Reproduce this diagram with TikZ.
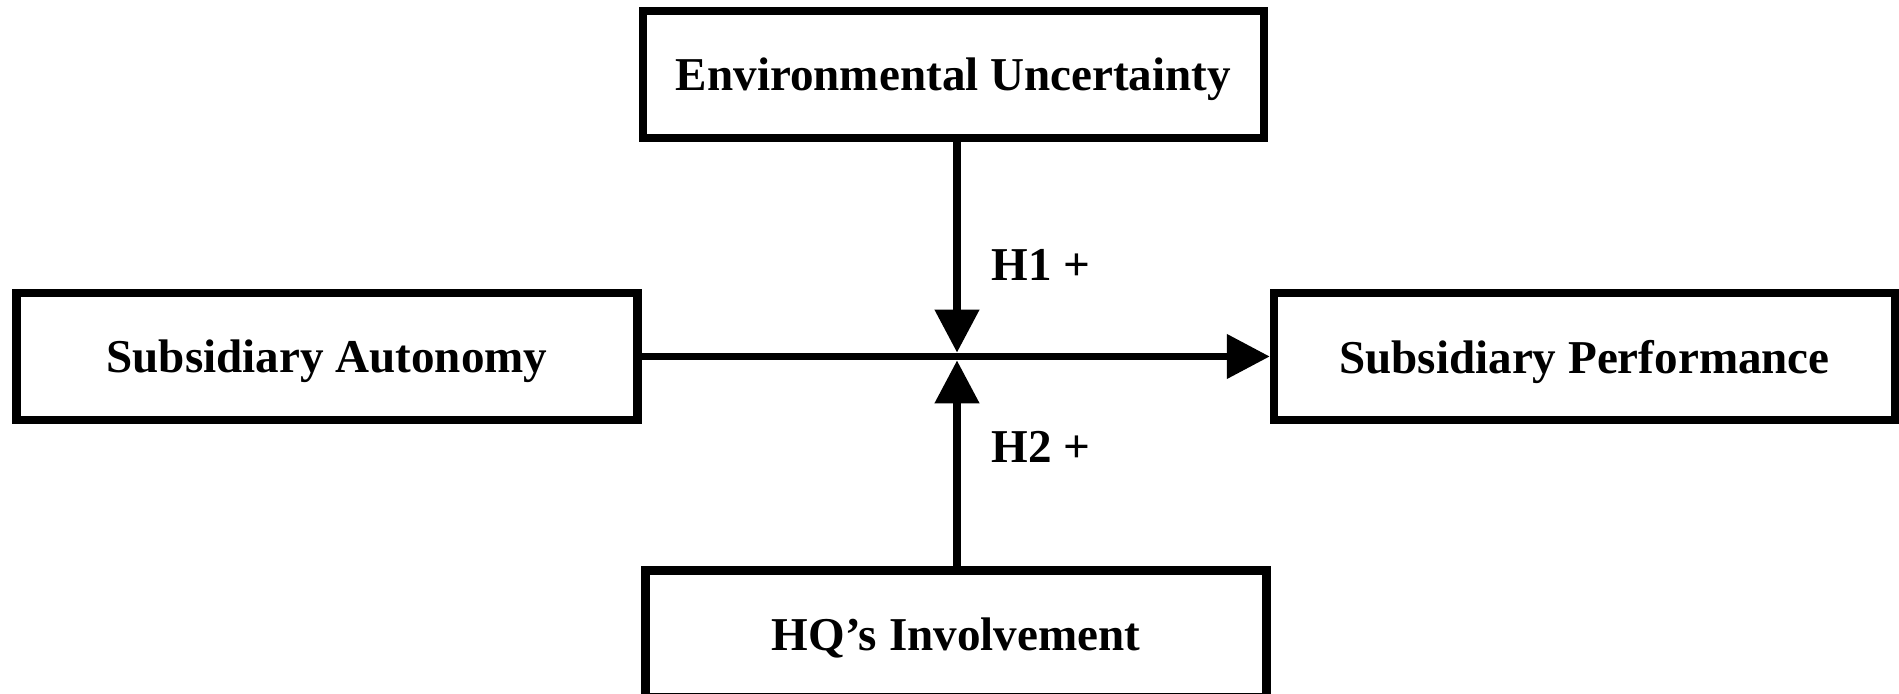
\documentclass[tikz,border=0pt]{standalone}
\usepackage{fontspec}
\setmainfont{Liberation Serif}
\usetikzlibrary{arrows.meta}
\tikzset{>={Triangle[length=4.3mm,width=4.3mm]}}
\tikzset{
  varbox/.style={draw,line width=2.4pt,minimum width=6.21cm,minimum height=1.27cm,
    text depth=0pt,font=\fontsize{13.4}{15}\selectfont\bfseries},
  hyplabel/.style={font=\fontsize{13.4}{15}\selectfont\bfseries},
}

\begin{document}
\begin{tikzpicture}
  \useasboundingbox (0,0) rectangle (18.99,-6.94);
  \node[varbox] (env)  at (9.535,-0.745) {Environmental Uncertainty};
  \node[varbox] (auto) at (3.27,-3.565)  {Subsidiary Autonomy};
  \node[varbox] (perf) at (15.845,-3.565) {Subsidiary Performance};
  \node[varbox] (hq)   at (9.56,-6.34)   {HQ’s Involvement};
  \coordinate (joint) at (9.57,-3.565);
  \draw[->,line width=2.2pt] (auto.east) -- (perf.west);
  \draw[->,line width=2.2pt,shorten >=1.1pt] (env.south -| joint) -- (joint);
  \draw[->,line width=2.2pt,shorten >=1.1pt] (hq.north -| joint) -- (joint);
  \node[hyplabel] (h1) at (10.41,-2.65) {H1 +};
  \node[hyplabel] (h2) at (10.41,-4.47) {H2 +};
\end{tikzpicture}
\end{document}
